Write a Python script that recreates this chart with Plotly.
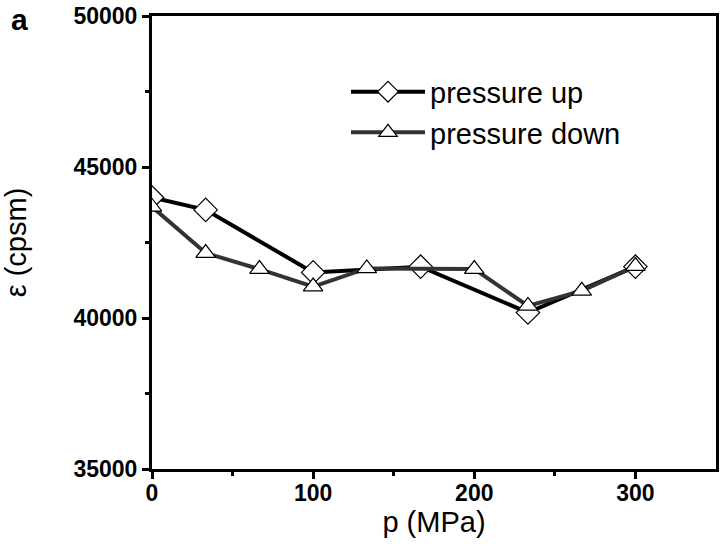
import plotly.graph_objects as go

up_p = [0, 33.3, 100, 166.7, 233.3, 300]
up_eps = [43990, 43580, 41510, 41700, 40180, 41700]
down_p = [0, 33.3, 66.7, 100, 133.3, 200, 233.3, 266.7, 300]
down_eps = [43680, 42150, 41620, 41040, 41640, 41620, 40400, 40900, 41720]

x_ticks = [0, 100, 200, 300]
y_ticks = [35000, 40000, 45000, 50000]
y_tick_labels = ["35000", "40000", "45000", "50000"]

FONT = "Liberation Sans, Arial, sans-serif"

fig = go.Figure()
fig.add_trace(go.Scatter(
    x=up_p, y=up_eps, mode="lines+markers", name="pressure up",
    line=dict(color="#000000", width=4),
    marker=dict(symbol="diamond", size=18, color="white", line=dict(color="black", width=1.2)),
))
fig.add_trace(go.Scatter(
    x=down_p, y=down_eps, mode="lines+markers", name="pressure down",
    line=dict(color="#333333", width=4),
    marker=dict(symbol="triangle-up", size=17, color="white", line=dict(color="black", width=1.2)),
))

axis_common = dict(
    showline=True, linecolor="black", linewidth=3, mirror=True,
    ticks="outside", ticklen=7, tickwidth=3, tickcolor="black",
    showgrid=False, zeroline=False, automargin=False, ticklabeloverflow="allow",
    tickfont=dict(family=FONT, size=23, color="black", weight="bold"),
)

fig.update_xaxes(
    range=[0, 350], tickvals=x_ticks, ticklabelstandoff=-6,
    minor=dict(tickvals=[50, 150, 250], ticklen=4, tickwidth=3, ticks="outside", tickcolor="black"),
    title=dict(text="p (MPa)", font=dict(family=FONT, size=29, color="black"), standoff=4),
    **axis_common,
)
fig.update_yaxes(
    range=[35000, 50000], tickvals=y_ticks, ticktext=y_tick_labels,
    minor=dict(tickvals=[37500, 42500, 47500], ticklen=4, tickwidth=3, ticks="outside", tickcolor="black"),
    title=dict(text="ε (cpsm)", font=dict(family=FONT, size=29, color="black"), standoff=45),
    **axis_common,
)

fig.update_layout(
    width=720, height=550,
    margin=dict(l=152, r=4, t=16, b=81),
    paper_bgcolor="white", plot_bgcolor="white",
    legend=dict(
        x=0.344, y=0.889, xanchor="left", yanchor="top",
        font=dict(family=FONT, size=29, color="black"),
        bgcolor="rgba(0,0,0,0)", itemwidth=74, tracegroupgap=0,
    ),
    annotations=[dict(
        text="a", x=-0.253, y=1.033, xref="paper", yref="paper", showarrow=False,
        xanchor="left", yanchor="top",
        font=dict(family=FONT, size=30, color="black", weight="bold"),
    )],
)

fig.write_html(
    "out.html",
    config={"displayModeBar": False},
    post_script="document.body.style.margin='0';document.body.style.overflow='hidden';",
)
